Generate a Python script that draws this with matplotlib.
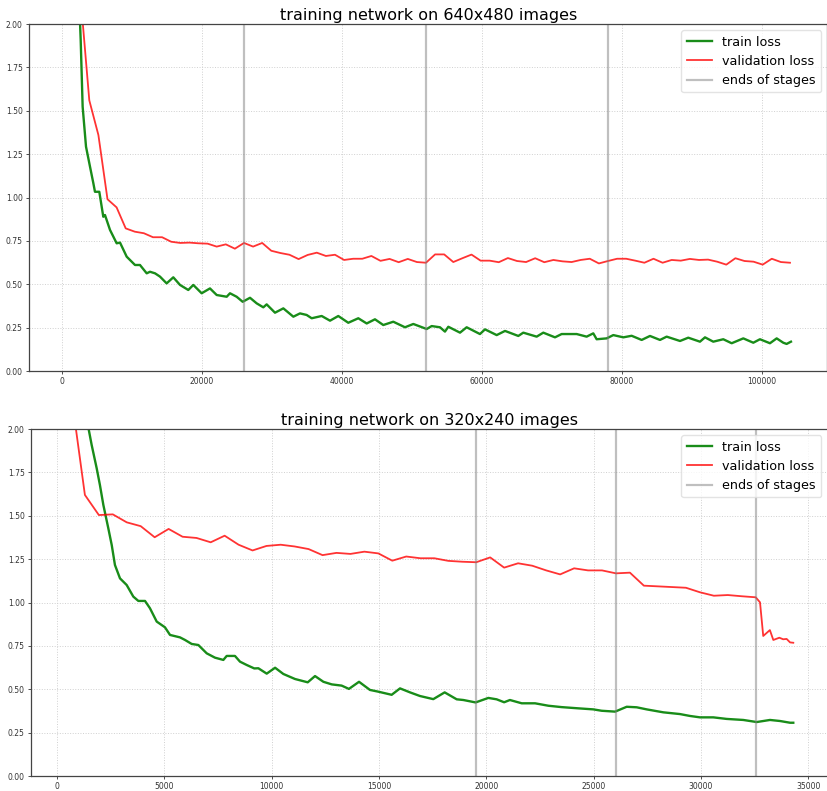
import matplotlib
matplotlib.use("Agg")
import matplotlib.pyplot as plt
import numpy as np

# ---- 640x480 run ----
big_train_steps = [2300, 2670, 2950, 3430, 4000, 4480, 4710, 5330, 5670, 5900, 6140, 6860,
                   7810, 8290, 9240, 10430, 11140, 12100, 12570, 13290, 14000, 14950, 15900,
                   16860, 18040, 18760, 19950, 21140, 22100, 23530, 24000, 24950, 25810, 26860,
                   27810, 28760, 29240, 30430, 31620, 33050, 34000, 34950, 35670, 37100, 38290,
                   39470, 40900, 42330, 43530, 44710, 45900, 47330, 49000, 50190, 52100, 52810,
                   54000, 54710, 55190, 56860, 57810, 59710, 60430, 62100, 63290, 65190, 65900,
                   67810, 68760, 70430, 71380, 73530, 74950, 75900, 76380, 77810, 78760, 80190,
                   81380, 82810, 84000, 85430, 86380, 88290, 89470, 91140, 91860, 93040, 94470,
                   95670, 97330, 98760, 99710, 101140, 102100, 103040, 103520, 104140]
big_train_loss = [2.30, 1.908, 1.523, 1.293, 1.178, 1.082, 1.033, 1.033, 0.947, 0.889, 0.899, 0.813,
                  0.736, 0.740, 0.659, 0.611, 0.611, 0.563, 0.572, 0.563, 0.544, 0.505, 0.540,
                  0.496, 0.467, 0.496, 0.448, 0.476, 0.438, 0.428, 0.448, 0.428, 0.399, 0.422,
                  0.390, 0.367, 0.384, 0.336, 0.361, 0.313, 0.332, 0.323, 0.304, 0.317, 0.290,
                  0.317, 0.278, 0.304, 0.274, 0.298, 0.265, 0.284, 0.252, 0.271, 0.242, 0.259,
                  0.252, 0.227, 0.255, 0.221, 0.252, 0.213, 0.240, 0.207, 0.231, 0.202, 0.221,
                  0.198, 0.221, 0.194, 0.213, 0.213, 0.198, 0.217, 0.183, 0.188, 0.207, 0.194,
                  0.203, 0.179, 0.202, 0.179, 0.198, 0.173, 0.192, 0.169, 0.194, 0.169, 0.183,
                  0.160, 0.188, 0.163, 0.183, 0.160, 0.188, 0.163, 0.156, 0.169]

# validation every 1300 steps, from step 2600 to 104000
big_val_steps = np.arange(2, 81) * 1300
big_val_loss = [2.18, 1.56, 1.36, 0.99, 0.943, 0.822, 0.803, 0.794, 0.771, 0.771,
                0.745, 0.738, 0.740, 0.736, 0.734, 0.717, 0.730, 0.705, 0.738, 0.717,
                0.738, 0.693, 0.680, 0.670, 0.645, 0.669, 0.682, 0.663, 0.670, 0.640,
                0.647, 0.647, 0.663, 0.635, 0.646, 0.627, 0.646, 0.628, 0.624, 0.672,
                0.672, 0.628, 0.650, 0.671, 0.636, 0.636, 0.627, 0.651, 0.634, 0.628,
                0.650, 0.627, 0.640, 0.632, 0.628, 0.640, 0.647, 0.620, 0.634, 0.647,
                0.647, 0.636, 0.624, 0.647, 0.624, 0.640, 0.636, 0.646, 0.640, 0.642,
                0.630, 0.613, 0.650, 0.634, 0.630, 0.613, 0.647, 0.628, 0.624]
big_stage_ends = [26000, 52000, 78000]

# ---- 320x240 run ----
small_train_steps = [1350, 1615, 1850, 2000, 2160, 2390, 2550, 2700, 2935, 3245, 3555, 3790,
                     4100, 4330, 4645, 5030, 5265, 5730, 5965, 6275, 6585, 6975, 7360, 7750,
                     7905, 8290, 8525, 8835, 9190, 9380, 9770, 10160, 10545, 11090, 11680,
                     12020, 12410, 12800, 13260, 13600, 14070, 14580, 14970, 15590, 15980,
                     16445, 16910, 17530, 18060, 18620, 18930, 19500, 20095, 20480, 20830,
                     21100, 21650, 22270, 22890, 23510, 24285, 24985, 25375, 26000, 26540,
                     27005, 27470, 28245, 29020, 29490, 29955, 30575, 31195, 31970, 32595,
                     33215, 33680, 34150, 34300]
small_train_loss = [2.08, 1.908, 1.773, 1.677, 1.562, 1.428, 1.331, 1.216, 1.139, 1.101, 1.034, 1.009,
                    1.009, 0.967, 0.890, 0.857, 0.813, 0.799, 0.784, 0.761, 0.755, 0.707, 0.682, 0.669,
                    0.692, 0.692, 0.659, 0.640, 0.620, 0.621, 0.590, 0.624, 0.588, 0.559, 0.540,
                    0.576, 0.543, 0.528, 0.521, 0.502, 0.543, 0.496, 0.486, 0.468, 0.505,
                    0.482, 0.461, 0.443, 0.482, 0.442, 0.438, 0.424, 0.450, 0.442, 0.425,
                    0.438, 0.419, 0.419, 0.405, 0.397, 0.390, 0.384, 0.376, 0.371, 0.399,
                    0.396, 0.384, 0.367, 0.357, 0.346, 0.338, 0.338, 0.329, 0.323, 0.311,
                    0.323, 0.317, 0.307, 0.307]

small_val_steps = [651, 1300, 1950, 2600, 3250, 3900, 4550, 5200, 5850, 6500, 7160, 7810,
                   8460, 9110, 9760, 10420, 11070, 11720, 12370, 13020, 13670, 14320, 14970,
                   15620, 16270, 16930, 17580, 18230, 18880, 19530, 20180, 20830, 21480, 22140,
                   22790, 23440, 24090, 24740, 25390, 26040, 26690, 27340, 28000, 28650, 29300,
                   29950, 30600, 31250, 31900, 32550, 32750, 32900, 33210, 33370, 33650, 33830,
                   33990, 34150, 34300]
small_val_loss = [2.21, 1.62, 1.504, 1.508, 1.462, 1.440, 1.376, 1.424, 1.379, 1.372, 1.347, 1.385,
                  1.333, 1.300, 1.326, 1.333, 1.323, 1.308, 1.273, 1.286, 1.280, 1.293, 1.283,
                  1.241, 1.265, 1.255, 1.255, 1.240, 1.235, 1.232, 1.260, 1.201, 1.226, 1.212,
                  1.185, 1.162, 1.197, 1.185, 1.185, 1.168, 1.172, 1.097, 1.093, 1.089, 1.085,
                  1.059, 1.039, 1.043, 1.036, 1.030, 1.001, 0.807, 0.841, 0.784, 0.797, 0.788,
                  0.790, 0.770, 0.768]
small_stage_ends = [19540, 26050, 32560]


def draw_run(ax, title, train_x, train_y, val_x, val_y, stage_ends, xlim, xticks):
    ax.plot(train_x, train_y, color='g', alpha=0.9, lw=1.7, label='train loss')
    ax.plot(val_x, val_y, color='r', alpha=0.8, lw=1.3, label='validation loss')
    for i, s in enumerate(stage_ends):
        ax.axvline(s, color='gray', alpha=0.5, lw=1.6,
                   label='ends of stages' if i == 0 else None)
    ax.set_ylim(0, 2)
    ax.set_xlim(*xlim)
    ax.set_xticks(xticks)
    ax.set_yticks(np.arange(0, 2.01, 0.25))
    ax.yaxis.set_major_formatter(matplotlib.ticker.FormatStrFormatter('%.2f'))
    ax.tick_params(labelsize=5.5, length=2.5, width=0.6, colors='#333333', pad=2)
    ax.grid(True, ls=':', color='#d0d0d0', lw=0.7)
    ax.set_axisbelow(True)
    for sp in ax.spines.values():
        sp.set_color('#444444')
        sp.set_linewidth(0.9)
    ax.set_title(title, fontsize=11.5, pad=3)
    ax.legend(loc='upper right', fontsize=9.2, framealpha=0.8, edgecolor='#dddddd',
              handlelength=2.0, borderaxespad=0.5)


fig = plt.figure(figsize=(8.28, 7.91), dpi=100)
ax1 = fig.add_axes([29 / 828, 1 - 371 / 791, 798.5 / 828, 347 / 791])
ax2 = fig.add_axes([31 / 828, 1 - 776 / 791, 796.5 / 828, 347 / 791])

draw_run(ax1, 'training network on 640x480 images', big_train_steps, big_train_loss,
         big_val_steps, big_val_loss, big_stage_ends, (-4714, 109360),
         np.arange(0, 100001, 20000))
draw_run(ax2, 'training network on 320x240 images', small_train_steps, small_train_loss,
         small_val_steps, small_val_loss, small_stage_ends, (-1211, 35894),
         np.arange(0, 35001, 5000))

fig.savefig('out.png', dpi=100)
